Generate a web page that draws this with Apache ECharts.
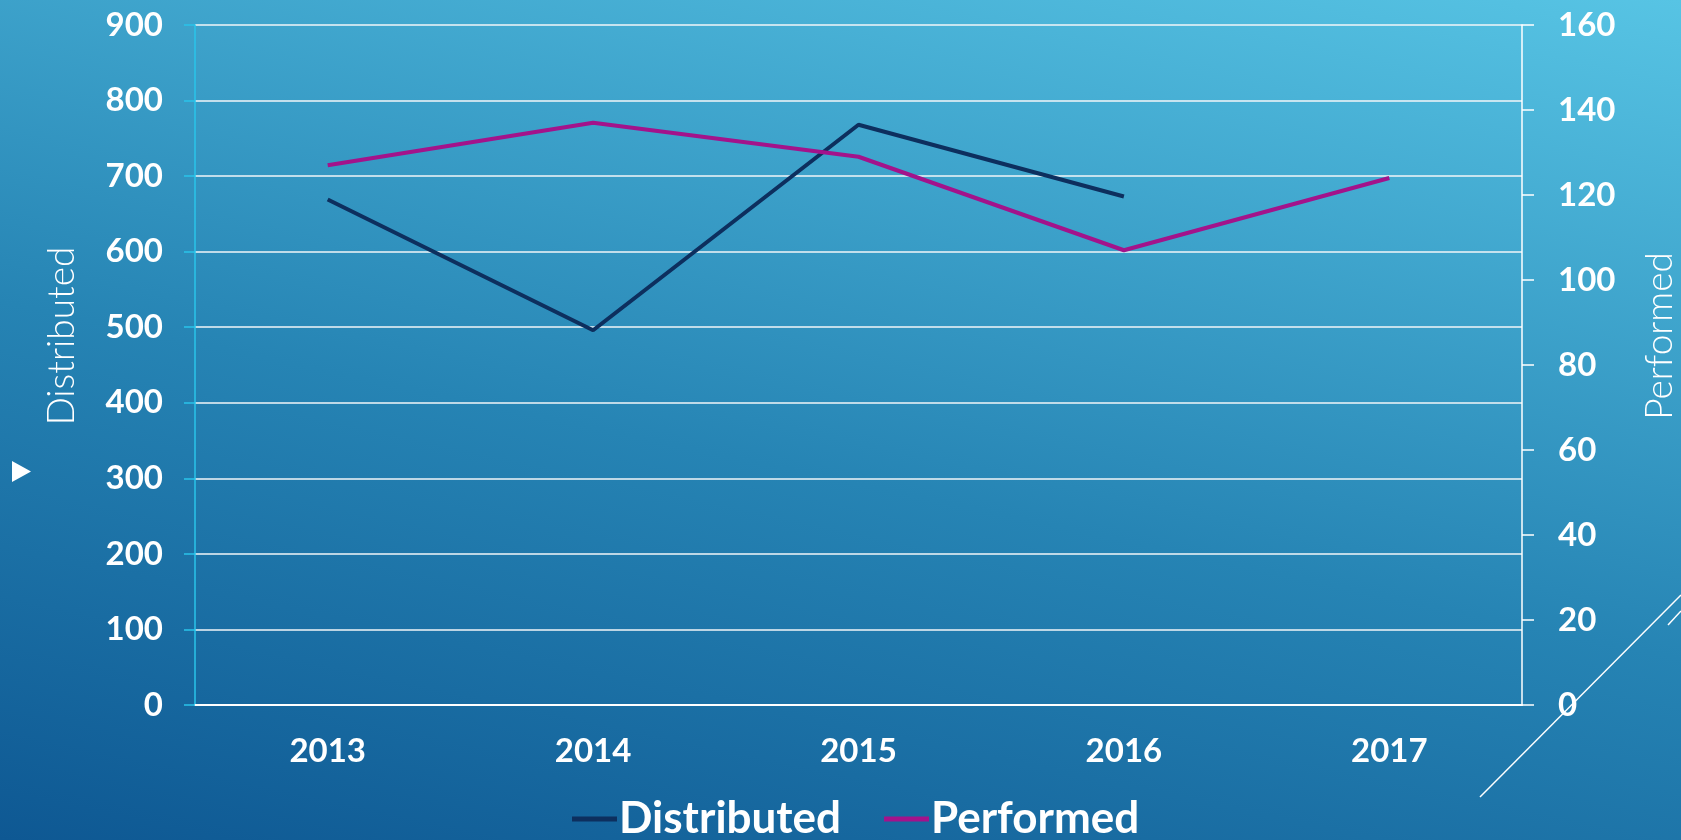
<!doctype html>
<html>
<head>
<meta charset="utf-8">
<title>Distributed / Performed</title>
<style>
html, body { margin: 0; padding: 0; }
#main {
	width: 1681px;
	height: 840px;
	background: linear-gradient(12deg, #0e5893 0%, #2684b4 45%, #57c4e4 100%);
}
</style>
</head>
<body>
<div id="main"></div>
<script src="https://cdn.jsdelivr.net/npm/echarts@6/dist/echarts.min.js"></script>
<script>
var years = ['2013', '2014', '2015', '2016', '2017'];
var distributed = [669, 496, 768, 673, null];
var performed = [127, 137, 129, 107, 124];
var leftTicks = [0, 900, 100];
var rightTicks = [0, 160, 20];

var myChart = echarts.init(document.getElementById('main'));
var font = 'Lato';

var option = {
	textStyle: { fontFamily: font },
	grid: { left: 195, right: 159, top: 25, bottom: 135, outerBoundsMode: 'none', containLabel: false },
	legend: {
		bottom: -6,
		left: 567,
		itemWidth: 45,
		itemHeight: 5,
		itemGap: 43,
		icon: 'rect',
		textStyle: { color: '#fff', fontSize: 44, fontWeight: 'bold', fontFamily: font, padding: [0, 0, 0, -3] },
		data: ['Distributed', 'Performed']
	},
	xAxis: {
		type: 'category',
		data: years,
		boundaryGap: true,
		axisLine: { lineStyle: { color: '#fff', width: 2 } },
		axisTick: { show: false },
		axisLabel: { color: '#fff', fontSize: 33, fontWeight: 'bold', margin: 30 }
	},
	yAxis: [{
		type: 'value',
		min: leftTicks[0], max: leftTicks[1], interval: leftTicks[2],
		name: 'Distributed',
		nameLocation: 'middle',
		nameRotate: 90,
		nameGap: 114,
		nameTextStyle: { color: '#fff', fontSize: 37, fontWeight: 300, padding: [0, 0, 0, 58] },
		axisLine: { show: true, lineStyle: { color: '#2ac4ea', width: 1.5 } },
		axisTick: { show: true, length: 11, lineStyle: { color: '#2ac4ea', width: 1.5 } },
		axisLabel: { color: '#fff', fontSize: 33, fontWeight: 'bold', margin: 32 },
		splitLine: { lineStyle: { color: '#f2f6f8', width: 1.5 } }
	}, {
		type: 'value',
		position: 'right',
		min: rightTicks[0], max: rightTicks[1], interval: rightTicks[2],
		alignTicks: false,
		name: 'Performed',
		nameLocation: 'middle',
		nameRotate: 90,
		nameGap: 120,
		nameTextStyle: { color: '#fff', fontSize: 37, fontWeight: 300, padding: [0, 0, 0, 58] },
		axisLine: { show: true, lineStyle: { color: '#fff', width: 1.5 } },
		axisTick: { show: true, length: 12, lineStyle: { color: '#fff', width: 1.5 } },
		axisLabel: { color: '#fff', fontSize: 33, fontWeight: 'bold', margin: 36 },
		splitLine: { show: false }
	}],
	series: [{
		name: 'Distributed',
		type: 'line',
		data: distributed,
		yAxisIndex: 0,
		showSymbol: false,
		symbol: 'none',
		color: '#0d2f5e',
		lineStyle: { width: 4, color: '#0d2f5e' }
	}, {
		name: 'Performed',
		type: 'line',
		data: performed,
		yAxisIndex: 1,
		showSymbol: false,
		symbol: 'none',
		color: '#a3138b',
		lineStyle: { width: 4, color: '#a3138b' }
	}],
	graphic: [
		// slide decorations
		{ type: 'polygon', shape: { points: [[12, 461], [31, 471.5], [12, 482]] }, style: { fill: '#fff' } },
		{ type: 'line', shape: { x1: 1480, y1: 797, x2: 1681, y2: 595 }, style: { stroke: '#fff', lineWidth: 1.5 } },
		{ type: 'line', shape: { x1: 1668, y1: 625, x2: 1681, y2: 611 }, style: { stroke: '#fff', lineWidth: 1.5 } }
	]
};

myChart.setOption(option);
</script>
</body>
</html>
